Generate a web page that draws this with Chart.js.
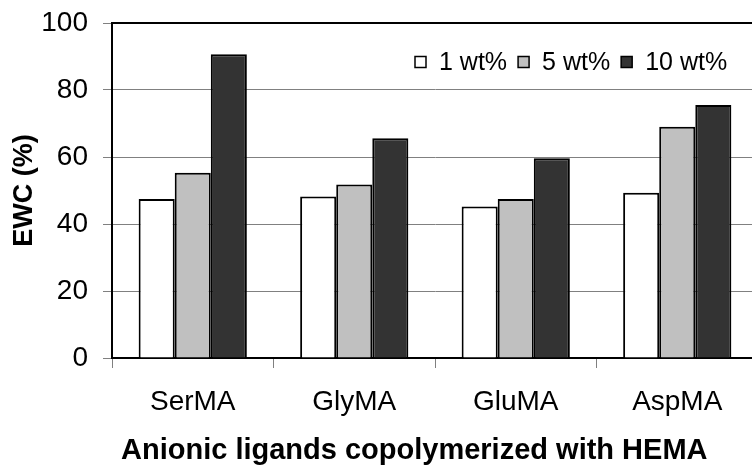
<!DOCTYPE html>
<html>
<head>
<meta charset="utf-8">
<script src="https://cdn.jsdelivr.net/npm/chart.js@4"></script>
<style>
    html, body { margin: 0; padding: 0; overflow: hidden; background: #fff; }
    /* plot runs a little past the right edge, like the original */
    #wrap { position: relative; width: 760px; height: 468px; }
</style>
</head>
<body>
<div id="wrap"><canvas id="ewcChart"></canvas></div>
<script>
// EWC of HEMA hydrogels with anionic ligands

// Data
const categories = ['SerMA', 'GlyMA', 'GluMA', 'AspMA'];
const seriesLabels = ['1 wt%', '5 wt%', '10 wt%'];
const ewc1 = [47.5, 48.2, 45.2, 49.3];
const ewc5 = [55.3, 51.8, 47.5, 69.0];
const ewc10 = [90.7, 65.6, 59.6, 75.5];
const yTicks = [0, 20, 40, 60, 80, 100];
const xTitle = 'Anionic ligands copolymerized with HEMA';
const yTitle = 'EWC (%)';

const barColors = ['#ffffff', '#c0c0c0', '#333333'];
const FONT = 'Arial, "Liberation Sans", sans-serif';

// Black frame line along the top of the plot area
const frameTop = {
    id: 'frameTop',
    afterDraw(chart) {
        const { ctx, chartArea } = chart;
        ctx.save();
        ctx.strokeStyle = '#000';
        ctx.lineWidth = 2;
        ctx.beginPath();
        ctx.moveTo(chartArea.left, chartArea.top);
        ctx.lineTo(chartArea.right, chartArea.top);
        ctx.lineTo(chartArea.right, chartArea.bottom);
        ctx.stroke();
        ctx.restore();
    }
};

// Legend drawn inside the plot, top right
const insideLegend = {
    id: 'insideLegend',
    afterDraw(chart) {
        const ctx = chart.ctx;
        const box = 11;
        const yMid = 62;
        let x = 415;
        ctx.save();
        ctx.font = `25px ${FONT}`;
        ctx.textBaseline = 'middle';
        chart.data.datasets.forEach(ds => {
            ctx.fillStyle = ds.backgroundColor;
            ctx.fillRect(x, yMid - box / 2, box, box);
            ctx.strokeStyle = '#000';
            ctx.lineWidth = 1.5;
            ctx.strokeRect(x, yMid - box / 2, box, box);
            x += box + 13;
            ctx.fillStyle = '#000';
            ctx.fillText(ds.label, x, yMid + 1);
            x += ctx.measureText(ds.label).width + 11;
        });
        ctx.restore();
    }
};

// x axis title sits a bit left of the plot centre in the original
const bottomTitle = {
    id: 'bottomTitle',
    afterDraw(chart) {
        const ctx = chart.ctx;
        ctx.save();
        ctx.font = `bold 29px ${FONT}`;
        ctx.fillStyle = '#000';
        ctx.textBaseline = 'alphabetic';
        ctx.fillText(xTitle, 121, 459);
        ctx.restore();
    }
};

const ctx = document.getElementById('ewcChart').getContext('2d');

new Chart(ctx, {
    type: 'bar',
    data: {
        labels: categories,
        datasets: [ewc1, ewc5, ewc10].map((values, i) => ({
            label: seriesLabels[i],
            data: values,
            backgroundColor: barColors[i],
            borderColor: '#000',
            borderWidth: 2,
            categoryPercentage: 0.67,
            barPercentage: 1.0
        }))
    },
    options: {
        responsive: true,
        maintainAspectRatio: false,
        animation: false,
        layout: {
            padding: { top: 23, right: 2, left: 0, bottom: 0 }
        },
        plugins: {
            legend: { display: false },
            tooltip: { enabled: false }
        },
        scales: {
            x: {
                offset: true,
                grid: {
                    offset: true,
                    drawOnChartArea: false,
                    drawTicks: true,
                    tickLength: 10,
                    color: '#808080'
                },
                border: { color: '#000', width: 2 },
                ticks: {
                    color: '#000',
                    font: { family: FONT, size: 28 },
                    padding: 17
                },
                afterFit(scale) {
                    scale.height = 110;
                    scale.paddingLeft = 0;
                    scale.paddingRight = 0;
                }
            },
            y: {
                min: 0,
                max: 100,
                afterBuildTicks(scale) {
                    scale.ticks = yTicks.map(v => ({ value: v }));
                },
                grid: {
                    color: '#808080',
                    lineWidth: 1,
                    tickLength: 9
                },
                border: { color: '#000', width: 2 },
                ticks: {
                    color: '#000',
                    font: { family: FONT, size: 28 },
                    padding: 15
                },
                title: {
                    display: true,
                    text: yTitle,
                    color: '#000',
                    font: { family: FONT, size: 27, weight: 'bold' },
                    padding: { top: 8, bottom: 0 }
                },
                afterFit(scale) {
                    scale.width = 112;
                    scale.paddingTop = 0;
                    scale.paddingBottom = 0;
                }
            }
        }
    },
    plugins: [frameTop, insideLegend, bottomTitle]
});
</script>
</body>
</html>
